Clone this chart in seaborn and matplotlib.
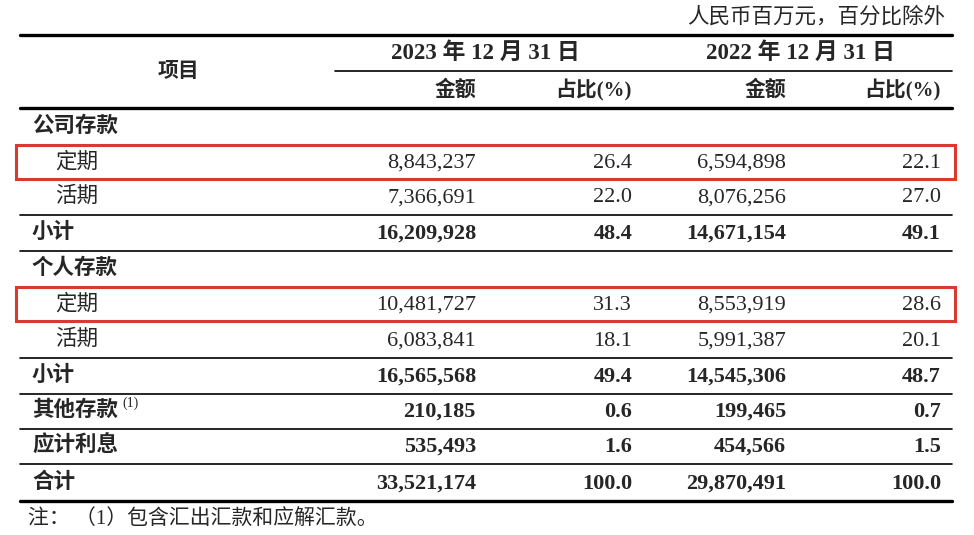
import matplotlib
matplotlib.use("Agg")
import matplotlib.pyplot as plt
import seaborn as sns
from matplotlib.patches import Rectangle

sns.set_theme(style="white")
FONTS = ['Liberation Serif', 'Noto Sans CJK SC', 'DejaVu Sans']
plt.rcParams['font.family'] = FONTS

# table data
unit_note = "人民币百万元，百分比除外"
years = ["2023 年 12 月 31 日", "2022 年 12 月 31 日"]
sub_headers = ["金额", "占比(%)", "金额", "占比(%)"]
row_labels = ["公司存款", "定期", "活期", "小计", "个人存款", "定期", "活期",
              "小计", "其他存款", "应计利息", "合计"]
amount_2023 = [None, 8843237, 7366691, 16209928, None, 10481727, 6083841,
               16565568, 210185, 535493, 33521174]
pct_2023 = [None, 26.4, 22.0, 48.4, None, 31.3, 18.1, 49.4, 0.6, 1.6, 100.0]
amount_2022 = [None, 6594898, 8076256, 14671154, None, 8553919, 5991387,
               14545306, 199465, 454566, 29870491]
pct_2022 = [None, 22.1, 27.0, 49.1, None, 28.6, 20.1, 48.7, 0.7, 1.5, 100.0]
bold_rows = [True, False, False, True, True, False, False, True, True, True, True]
indent_rows = [False, True, True, False, False, True, True, False, False, False, False]
highlight_rows = [1, 5]
footnote = "注： （1）包含汇出汇款和应解汇款。"

# layout (pixels)
row_y = [127, 162, 197, 233, 269, 304, 340, 376, 411, 446, 483]
lines_after = {2: 215, 3: 251, 6: 358, 7: 394, 8: 429, 9: 464}
col_right = [476, 632, 786, 941]
x0, x1 = 20, 952

fig = plt.figure(figsize=(9.74, 5.35), dpi=100)
ax = fig.add_axes([0, 0, 1, 1])
ax.set_xlim(0, 974)
ax.set_ylim(535, 0)
ax.axis("off")

ax.text(945, 17, unit_note, ha="right", va="center", fontsize=15.5)

ax.plot([x0, x1], [35, 35], color="black", lw=2.4)
ax.plot([335, x1], [71, 71], color="black", lw=1.2)
ax.plot([x0, x1], [108, 108], color="black", lw=2.4)
ax.plot([x0, x1], [501, 501], color="black", lw=2.4)
for y in lines_after.values():
    ax.plot([x0, x1], [y, y], color="black", lw=1.2)

ax.text(178, 72, "项目", ha="center", va="center", fontsize=15, fontweight="bold")
ax.text(485, 53, years[0], ha="center", va="center", fontsize=16.5, fontweight="bold")
ax.text(800, 53, years[1], ha="center", va="center", fontsize=16.5, fontweight="bold")
for xr, h in zip(col_right, sub_headers):
    ax.text(xr, 90, h, ha="right", va="center", fontsize=15, fontweight="bold")

for i, label in enumerate(row_labels):
    y = row_y[i]
    w = "bold" if bold_rows[i] else "normal"
    x = 55 if indent_rows[i] else 32
    ax.text(x, y, label, ha="left", va="center", fontsize=15.5, fontweight=w)
    if label == "其他存款":
        ax.text(122, y - 8, "(1)", ha="left", va="center", fontsize=10)
    cells = [amount_2023[i], pct_2023[i], amount_2022[i], pct_2022[i]]
    for j, v in enumerate(cells):
        if v is None:
            continue
        s = f"{v:,}" if j % 2 == 0 else f"{v:.1f}"
        ax.text(col_right[j], y + 1, s, ha="right", va="center",
                fontsize=16, fontweight=w, family='Liberation Serif')

for i in highlight_rows:
    y = row_y[i]
    ax.add_patch(Rectangle((16, y - 17), 939, 34, fill=False,
                           edgecolor="#d93a30", lw=2.2))

ax.text(28, 519, footnote, ha="left", va="center", fontsize=15)

fig.savefig("out.png", dpi=100)
